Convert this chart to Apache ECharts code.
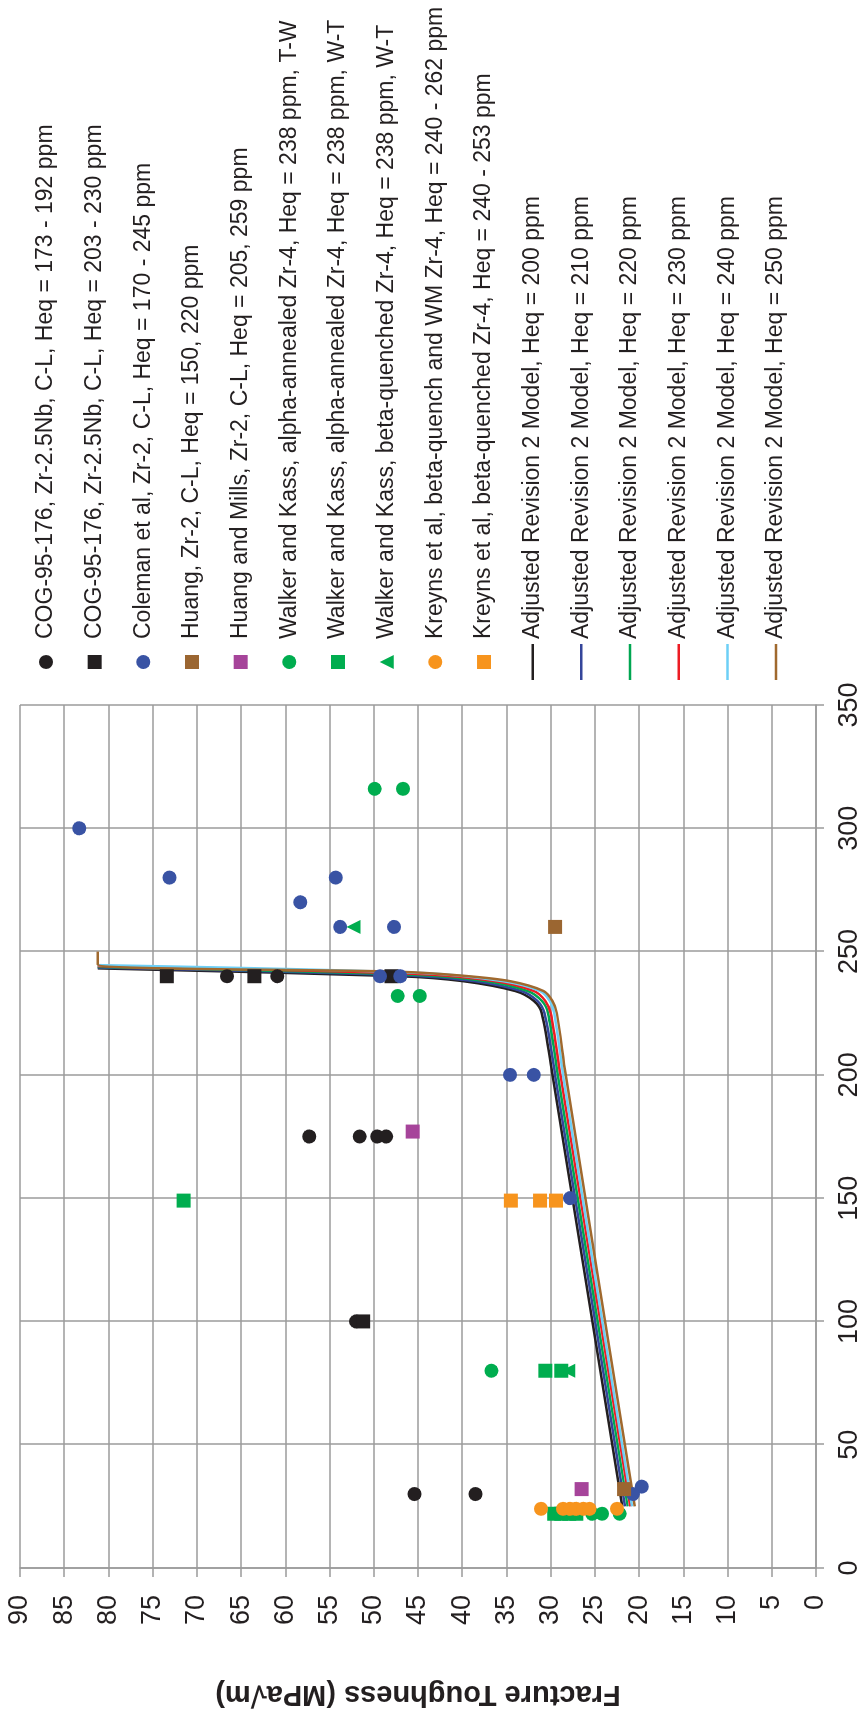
<!DOCTYPE html>
<html><head><meta charset="utf-8">
<script src="https://cdn.jsdelivr.net/npm/echarts@6/dist/echarts.min.js"></script>
<style>
html,body{margin:0;padding:0;width:863px;height:1718px;overflow:hidden;background:#fff;}
#chart{position:absolute;left:0;top:0;width:1718px;height:863px;transform-origin:0 0;transform:translate(0px,1718px) rotate(-90deg);}
</style></head><body><div id="chart"></div>
<script>
// Tick values
const tempTicks = [0, 50, 100, 150, 200, 250, 300, 350];
const kTicks = [0, 5, 10, 15, 20, 25, 30, 35, 40, 45, 50, 55, 60, 65, 70, 75, 80, 85, 90];
const yAxisTitle = 'Fracture Toughness (MPa\u221Am)';

// Series names
const seriesNames = [
  'COG-95-176, Zr-2.5Nb, C-L, Heq = 173 - 192 ppm',
  'COG-95-176, Zr-2.5Nb, C-L, Heq = 203 - 230 ppm',
  'Coleman et al, Zr-2, C-L, Heq = 170 - 245 ppm',
  'Huang, Zr-2, C-L, Heq = 150, 220 ppm',
  'Huang and Mills, Zr-2, C-L, Heq = 205, 259 ppm',
  'Walker and Kass, alpha-annealed Zr-4, Heq = 238 ppm, T-W',
  'Walker and Kass, alpha-annealed Zr-4, Heq = 238 ppm, W-T',
  'Walker and Kass, beta-quenched Zr-4, Heq = 238 ppm, W-T',
  'Kreyns et al, beta-quench and WM Zr-4, Heq = 240 - 262 ppm',
  'Kreyns et al, beta-quenched Zr-4, Heq = 240 - 253 ppm',
  'Adjusted Revision 2 Model, Heq = 200 ppm',
  'Adjusted Revision 2 Model, Heq = 210 ppm',
  'Adjusted Revision 2 Model, Heq = 220 ppm',
  'Adjusted Revision 2 Model, Heq = 230 ppm',
  'Adjusted Revision 2 Model, Heq = 240 ppm',
  'Adjusted Revision 2 Model, Heq = 250 ppm'
];

// Scatter data [temperature, toughness]
const cogCircles = [[240,66.6],[240,60.9],[175,57.3],[175,51.6],[175,49.6],[175,48.6],[100,52.0],[30,45.4],[30,38.5]];
const cogSquares = [[240,73.4],[240,63.5],[240,48.0],[100,51.2]];
const coleman = [[300,83.3],[280,73.1],[280,54.3],[270,58.3],[260,53.8],[260,47.7],[240,49.3],[240,47.0],[200,34.6],[200,31.9],[150,27.8],[33,19.7],[30,20.7]];
const huang = [[260,29.5],[32,21.7]];
const huangMills = [[177,45.6],[32,26.5]];
const walkerAlphaTW = [[316,49.9],[316,46.7],[232,47.3],[232,44.8],[80,36.7],[22,25.3],[22,24.2],[22,22.2]];
const walkerAlphaWT = [[149,71.5],[80,30.6],[80,28.8],[22,29.6],[22,28.8],[22,27.9],[22,27.1]];
const walkerBetaWT = [[260,52.3],[80,28.0]];
const kreynsCircles = [[24,31.1],[24,28.6],[24,27.8],[24,27.1],[24,26.3],[24,25.6],[24,22.5]];
const kreynsSquares = [[149,34.5],[149,31.2],[149,29.4]];

// Model curves [temperature, toughness]
const model200 = [[25,21.9],[200,29.8],[225,31.0],[230,31.9],[234,34.0],[238,39.9],[240,47.0],[243.2,81.2]];
const model210 = [[25,21.6],[200,29.5],[225,30.7],[230,31.5],[234,33.3],[238,38.6],[240.3,46.0],[243.5,81.2]];
const model220 = [[25,21.3],[200,29.2],[225,30.3],[230,31.0],[234,32.6],[238,37.3],[240.6,45.5],[243.8,81.2]];
const model230 = [[25,21.0],[200,28.9],[225,30.0],[230,30.6],[234,31.9],[238,36.3],[240.9,45.0],[244.1,81.2]];
const model240 = [[25,20.8],[200,28.6],[225,29.6],[230,30.1],[234,31.2],[238,35.4],[241.3,44.5],[244.5,81.2]];
const model250 = [[25,20.5],[200,28.3],[225,29.3],[230,29.8],[234,30.8],[238,34.6],[240.2,39.9],[241.8,47.0],[244.8,81.2],[250,81.2]];

const scatterData = [cogCircles, cogSquares, coleman, huang, huangMills, walkerAlphaTW, walkerAlphaWT, walkerBetaWT, kreynsCircles, kreynsSquares];
const scatterSymbols = ['circle','rect','circle','rect','rect','circle','rect','triangle','circle','rect'];
const scatterColors = ['#231f20','#231f20','#3953a4','#9b6631','#a6449a','#00ad4f','#00ad4f','#00ad4f','#f7941d','#f7941d'];
const lineData = [model200, model210, model220, model230, model240, model250];
const lineColors = ['#231f20','#34459a','#00a651','#ed1c24','#6dcff6','#a0692e'];

const FONT = '"Liberation Sans", Arial, Helvetica, sans-serif';
const GRID_COLOR = '#9b9b9b';
const legendIcons = {
  circle: 'circle',
  rect: 'path://M0,0H10V10H0Z',
  triangle: 'path://M5,0L10,10L0,10Z',
  line: 'path://M0,0H144V10H0Z'
};

const series = [];
const legendData = [];
scatterData.forEach((d, i) => {
  series.push({
    type: 'scatter', name: seriesNames[i], data: d,
    symbol: scatterSymbols[i], symbolSize: 14,
    itemStyle: { color: scatterColors[i], opacity: 1 },
    z: 3, silent: true
  });
  legendData.push({ name: seriesNames[i], icon: legendIcons[scatterSymbols[i]] });
});
lineData.forEach((d, i) => {
  series.push({
    type: 'line', name: seriesNames[10 + i], data: d,
    symbol: 'none', showSymbol: false,
    smooth: 0.3,
    lineStyle: { color: lineColors[i], width: 2.5 },
    itemStyle: { color: lineColors[i] },
    z: 2, silent: true
  });
  legendData.push({ name: seriesNames[10 + i], icon: legendIcons.line });
});

const chart = echarts.init(document.getElementById('chart'), null, { renderer: 'canvas' });
chart.setOption({
  animation: false,
  backgroundColor: '#ffffff',
  grid: { left: 150, top: 20, width: 863, height: 796, containLabel: false },
  xAxis: {
    type: 'value',
    min: tempTicks[0], max: tempTicks[tempTicks.length - 1], interval: tempTicks[1] - tempTicks[0],
    axisLine: { show: true, lineStyle: { color: GRID_COLOR, width: 1.5 } },
    axisTick: { show: true, length: 8, lineStyle: { color: GRID_COLOR, width: 1.5 } },
    splitLine: { show: true, lineStyle: { color: GRID_COLOR, width: 1.5 } },
    axisLabel: { color: '#231f20', fontSize: 27, fontFamily: FONT, margin: 20 }
  },
  yAxis: {
    type: 'value',
    min: kTicks[0], max: kTicks[kTicks.length - 1], interval: kTicks[1] - kTicks[0],
    name: yAxisTitle, nameLocation: 'middle', nameRotate: 90, nameGap: 112,
    nameTextStyle: { color: '#231f20', fontSize: 29, fontWeight: 'bold', fontFamily: FONT },
    axisLine: { show: true, lineStyle: { color: GRID_COLOR, width: 1.5 } },
    axisTick: { show: true, length: 9, lineStyle: { color: GRID_COLOR, width: 1.5 } },
    splitLine: { show: true, lineStyle: { color: GRID_COLOR, width: 1.5 } },
    axisLabel: { color: '#231f20', fontSize: 27, fontFamily: FONT, margin: 27 }
  },
  legend: {
    orient: 'vertical', left: 1038, top: 34, padding: 0,
    itemWidth: 36, itemHeight: 14, itemGap: 24.67,
    symbolKeepAspect: true,
    selectedMode: false,
    data: legendData,
    textStyle: { color: '#231f20', fontSize: 23, lineHeight: 24, fontFamily: FONT }
  },
  series: series
});
</script></body></html>
